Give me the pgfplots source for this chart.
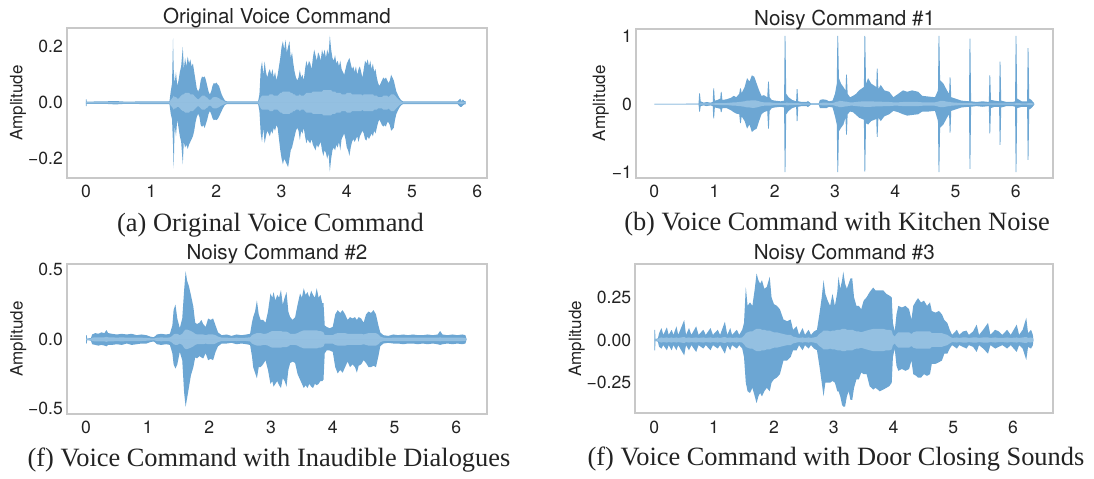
\documentclass[border=0pt]{standalone}
\usepackage{fontspec}
\setmainfont{Liberation Serif}
\setsansfont{TeX Gyre Heros}
\usepackage{pgfplots}
\pgfplotsset{compat=1.18}
\usepackage{pgfplotstable}
\definecolor{wavecol}{RGB}{108,166,211}
\definecolor{corecol}{RGB}{148,192,225}
\definecolor{framecol}{RGB}{200,200,200}
\definecolor{txt}{RGB}{35,35,35}

\pgfplotstableread{
t hi lo rms
0.000 0.012 -0.012 0.002
0.008 0.012 -0.012 0.002
0.012 0.004 -0.004 0.002
0.300 0.005 -0.004 0.002
0.450 0.006 -0.006 0.002
0.600 0.004 -0.004 0.002
1.000 0.005 -0.005 0.002
1.280 0.005 -0.005 0.002
1.300 0.040 -0.040 0.010
1.320 0.070 -0.060 0.015
1.335 0.230 -0.150 0.020
1.345 0.120 -0.235 0.025
1.360 0.070 -0.080 0.020
1.380 0.110 -0.120 0.020
1.400 0.060 -0.060 0.015
1.420 0.080 -0.090 0.015
1.440 0.110 -0.120 0.020
1.460 0.130 -0.140 0.025
1.485 0.200 -0.220 0.030
1.500 0.120 -0.140 0.030
1.520 0.160 -0.160 0.035
1.540 0.130 -0.150 0.035
1.560 0.165 -0.165 0.035
1.580 0.140 -0.150 0.035
1.600 0.155 -0.140 0.030
1.620 0.130 -0.130 0.030
1.640 0.140 -0.120 0.030
1.660 0.110 -0.100 0.025
1.680 0.080 -0.070 0.020
1.700 0.050 -0.050 0.015
1.720 0.040 -0.040 0.012
1.740 0.050 -0.050 0.015
1.760 0.080 -0.080 0.020
1.780 0.094 -0.086 0.025
1.800 0.090 -0.080 0.025
1.820 0.094 -0.090 0.025
1.840 0.080 -0.075 0.020
1.860 0.060 -0.060 0.018
1.880 0.040 -0.040 0.012
1.900 0.030 -0.030 0.010
1.920 0.040 -0.040 0.012
1.940 0.060 -0.055 0.018
1.960 0.070 -0.062 0.020
1.980 0.068 -0.060 0.020
2.000 0.072 -0.062 0.020
2.020 0.065 -0.058 0.018
2.040 0.060 -0.050 0.016
2.060 0.045 -0.040 0.012
2.080 0.030 -0.030 0.010
2.100 0.020 -0.020 0.008
2.130 0.008 -0.008 0.004
2.160 0.005 -0.005 0.002
2.400 0.005 -0.005 0.002
2.640 0.005 -0.005 0.002
2.660 0.030 -0.030 0.010
2.680 0.120 -0.110 0.020
2.700 0.148 -0.140 0.025
2.720 0.100 -0.090 0.025
2.740 0.148 -0.145 0.025
2.760 0.110 -0.120 0.025
2.780 0.090 -0.100 0.025
2.800 0.110 -0.110 0.025
2.820 0.120 -0.120 0.030
2.840 0.100 -0.100 0.030
2.860 0.120 -0.110 0.030
2.880 0.090 -0.090 0.025
2.900 0.110 -0.100 0.025
2.920 0.080 -0.080 0.025
2.940 0.100 -0.090 0.025
2.960 0.130 -0.130 0.030
2.980 0.160 -0.170 0.035
3.000 0.200 -0.200 0.035
3.020 0.220 -0.220 0.040
3.040 0.190 -0.200 0.040
3.060 0.225 -0.210 0.040
3.080 0.180 -0.220 0.040
3.100 0.200 -0.230 0.040
3.120 0.220 -0.200 0.040
3.140 0.160 -0.170 0.035
3.160 0.180 -0.160 0.035
3.180 0.140 -0.140 0.030
3.200 0.110 -0.120 0.030
3.220 0.090 -0.100 0.025
3.240 0.080 -0.090 0.025
3.260 0.090 -0.100 0.025
3.280 0.117 -0.133 0.030
3.300 0.090 -0.100 0.025
3.320 0.100 -0.110 0.025
3.340 0.080 -0.090 0.025
3.360 0.120 -0.120 0.030
3.380 0.150 -0.145 0.035
3.400 0.130 -0.130 0.035
3.420 0.150 -0.140 0.035
3.440 0.140 -0.145 0.035
3.460 0.120 -0.130 0.035
3.480 0.160 -0.150 0.040
3.500 0.190 -0.160 0.040
3.520 0.170 -0.170 0.040
3.540 0.150 -0.150 0.040
3.560 0.180 -0.160 0.040
3.580 0.170 -0.150 0.040
3.600 0.150 -0.140 0.040
3.620 0.190 -0.170 0.040
3.640 0.170 -0.190 0.045
3.660 0.190 -0.170 0.045
3.680 0.160 -0.180 0.045
3.700 0.190 -0.200 0.045
3.720 0.170 -0.180 0.045
3.740 0.240 -0.246 0.045
3.760 0.190 -0.200 0.045
3.780 0.160 -0.170 0.040
3.800 0.150 -0.160 0.040
3.820 0.170 -0.170 0.040
3.840 0.140 -0.150 0.035
3.860 0.150 -0.160 0.035
3.880 0.130 -0.140 0.035
3.900 0.150 -0.170 0.035
3.920 0.120 -0.130 0.030
3.940 0.110 -0.120 0.030
3.960 0.100 -0.110 0.030
3.980 0.120 -0.130 0.030
4.000 0.140 -0.160 0.035
4.020 0.150 -0.170 0.035
4.040 0.160 -0.190 0.035
4.060 0.140 -0.160 0.035
4.080 0.120 -0.140 0.030
4.100 0.130 -0.130 0.030
4.120 0.110 -0.140 0.030
4.140 0.130 -0.130 0.030
4.160 0.100 -0.120 0.030
4.180 0.120 -0.140 0.030
4.200 0.130 -0.120 0.030
4.220 0.110 -0.110 0.030
4.240 0.090 -0.100 0.025
4.260 0.120 -0.110 0.030
4.280 0.150 -0.130 0.030
4.300 0.140 -0.135 0.030
4.320 0.155 -0.120 0.030
4.340 0.130 -0.130 0.030
4.360 0.150 -0.120 0.030
4.380 0.120 -0.110 0.030
4.400 0.140 -0.120 0.030
4.420 0.110 -0.100 0.025
4.440 0.120 -0.110 0.025
4.460 0.090 -0.090 0.025
4.480 0.070 -0.070 0.020
4.500 0.060 -0.060 0.020
4.520 0.070 -0.070 0.020
4.540 0.080 -0.080 0.020
4.560 0.090 -0.085 0.025
4.580 0.085 -0.080 0.025
4.600 0.090 -0.085 0.025
4.620 0.080 -0.070 0.025
4.640 0.070 -0.070 0.020
4.660 0.080 -0.080 0.025
4.680 0.100 -0.100 0.030
4.700 0.090 -0.095 0.030
4.720 0.080 -0.090 0.030
4.740 0.060 -0.060 0.025
4.760 0.040 -0.040 0.020
4.780 0.030 -0.030 0.015
4.800 0.020 -0.020 0.010
4.830 0.010 -0.010 0.005
4.860 0.005 -0.005 0.002
5.200 0.005 -0.005 0.002
5.700 0.005 -0.005 0.002
5.740 0.015 -0.015 0.004
5.760 0.005 -0.015 0.004
5.780 0.012 -0.010 0.004
5.800 0.006 -0.006 0.002
5.820 0.006 -0.006 0.002
5.825 0.000 0.000 0.000
}\dataA

\pgfplotstableread{
t hi lo rms
0.000 0.004 -0.004 0.001
0.500 0.004 -0.004 0.001
0.735 0.006 -0.006 0.002
0.745 0.157 -0.110 0.004
0.757 0.157 -0.110 0.004
0.770 0.040 -0.030 0.010
0.820 0.020 -0.020 0.008
0.870 0.030 -0.030 0.008
0.930 0.020 -0.020 0.008
0.970 0.030 -0.030 0.008
0.980 0.230 -0.210 0.008
0.992 0.230 -0.210 0.008
1.005 0.050 -0.050 0.012
1.050 0.060 -0.060 0.012
1.095 0.080 -0.070 0.015
1.105 0.180 -0.120 0.015
1.117 0.180 -0.120 0.015
1.130 0.060 -0.060 0.015
1.200 0.070 -0.060 0.015
1.270 0.090 -0.090 0.020
1.320 0.120 -0.120 0.025
1.360 0.100 -0.140 0.025
1.410 0.150 -0.150 0.030
1.425 0.230 -0.280 0.030
1.437 0.230 -0.280 0.030
1.450 0.160 -0.180 0.035
1.500 0.250 -0.250 0.040
1.540 0.380 -0.360 0.050
1.580 0.330 -0.300 0.050
1.620 0.420 -0.410 0.055
1.660 0.400 -0.380 0.055
1.700 0.300 -0.360 0.050
1.740 0.200 -0.250 0.040
1.780 0.120 -0.150 0.030
1.820 0.130 -0.120 0.025
1.875 0.100 -0.100 0.025
1.890 0.330 -0.360 0.025
1.902 0.330 -0.360 0.025
1.915 0.100 -0.100 0.025
1.950 0.060 -0.060 0.020
2.000 0.050 -0.050 0.015
2.100 0.040 -0.040 0.012
2.155 0.050 -0.050 0.012
2.165 1.000 -1.000 0.012
2.177 1.000 -1.000 0.012
2.190 0.150 -0.150 0.020
2.230 0.100 -0.100 0.018
2.290 0.060 -0.060 0.015
2.355 0.040 -0.040 0.012
2.365 0.220 -0.250 0.012
2.377 0.220 -0.250 0.012
2.390 0.040 -0.040 0.012
2.450 0.030 -0.030 0.010
2.530 0.030 -0.030 0.010
2.550 0.045 -0.045 0.010
2.600 0.010 -0.010 0.005
2.730 0.010 -0.010 0.005
2.750 0.060 -0.060 0.015
2.800 0.070 -0.060 0.020
2.860 0.060 -0.060 0.020
2.900 0.040 -0.040 0.015
2.960 0.050 -0.050 0.015
3.000 0.150 -0.180 0.025
3.030 0.300 -0.300 0.035
3.040 1.000 -1.000 0.035
3.052 1.000 -1.000 0.035
3.065 0.380 -0.400 0.045
3.100 0.300 -0.350 0.045
3.140 0.250 -0.300 0.040
3.175 0.200 -0.200 0.035
3.185 0.430 -0.450 0.035
3.197 0.430 -0.450 0.035
3.210 0.150 -0.150 0.030
3.250 0.100 -0.110 0.025
3.300 0.120 -0.120 0.025
3.350 0.150 -0.160 0.030
3.400 0.200 -0.200 0.035
3.480 0.250 -0.230 0.040
3.490 1.000 -0.990 0.040
3.502 1.000 -0.990 0.040
3.515 0.300 -0.280 0.040
3.550 0.380 -0.300 0.040
3.600 0.300 -0.250 0.040
3.685 0.250 -0.220 0.035
3.695 0.520 -0.480 0.035
3.707 0.520 -0.480 0.035
3.720 0.220 -0.200 0.035
3.760 0.280 -0.250 0.035
3.820 0.200 -0.180 0.030
3.900 0.180 -0.150 0.030
3.970 0.100 -0.100 0.025
4.050 0.150 -0.120 0.025
4.130 0.200 -0.150 0.030
4.200 0.180 -0.170 0.030
4.280 0.200 -0.160 0.030
4.380 0.180 -0.150 0.030
4.450 0.120 -0.110 0.025
4.550 0.110 -0.110 0.025
4.660 0.100 -0.100 0.025
4.710 0.200 -0.250 0.035
4.720 1.000 -1.000 0.040
4.732 1.000 -1.000 0.040
4.745 0.350 -0.350 0.045
4.800 0.300 -0.300 0.045
4.860 0.200 -0.200 0.035
4.895 0.150 -0.150 0.030
4.905 0.390 -0.420 0.030
4.917 0.390 -0.420 0.030
4.930 0.100 -0.100 0.025
5.000 0.080 -0.080 0.020
5.100 0.050 -0.050 0.015
5.225 0.040 -0.040 0.012
5.235 0.960 -0.950 0.012
5.247 0.960 -0.950 0.012
5.260 0.040 -0.040 0.012
5.350 0.030 -0.030 0.010
5.450 0.040 -0.040 0.010
5.555 0.030 -0.030 0.010
5.565 0.420 -0.430 0.010
5.577 0.420 -0.430 0.010
5.590 0.060 -0.060 0.010
5.650 0.050 -0.040 0.010
5.725 0.040 -0.040 0.010
5.735 0.620 -0.600 0.010
5.747 0.620 -0.600 0.010
5.760 0.050 -0.050 0.010
5.850 0.030 -0.030 0.010
5.950 0.030 -0.030 0.010
5.990 0.040 -0.040 0.010
6.000 1.000 -1.000 0.012
6.012 1.000 -1.000 0.012
6.025 0.080 -0.060 0.015
6.100 0.040 -0.040 0.010
6.190 0.040 -0.040 0.010
6.200 0.820 -0.820 0.012
6.212 0.820 -0.820 0.012
6.225 0.080 -0.080 0.015
6.260 0.060 -0.060 0.015
6.300 0.020 -0.020 0.005
6.310 0.000 0.000 0.000
}\dataB

\pgfplotstableread{
t hi lo rms
0.000 0.030 -0.030 0.005
0.010 0.030 -0.030 0.005
0.020 0.005 -0.005 0.003
0.080 0.010 -0.010 0.005
0.100 0.035 -0.035 0.012
0.150 0.045 -0.040 0.015
0.200 0.040 -0.045 0.015
0.250 0.050 -0.040 0.015
0.300 0.045 -0.045 0.015
0.330 0.067 -0.050 0.018
0.360 0.045 -0.040 0.015
0.420 0.040 -0.040 0.015
0.500 0.035 -0.035 0.012
0.580 0.040 -0.040 0.015
0.660 0.035 -0.030 0.012
0.740 0.040 -0.040 0.012
0.820 0.030 -0.035 0.012
0.900 0.035 -0.030 0.012
0.980 0.030 -0.030 0.010
1.040 0.020 -0.020 0.008
1.100 0.015 -0.015 0.006
1.150 0.035 -0.035 0.012
1.220 0.040 -0.040 0.014
1.300 0.035 -0.035 0.012
1.360 0.040 -0.040 0.014
1.400 0.100 -0.100 0.025
1.420 0.210 -0.180 0.035
1.450 0.250 -0.210 0.040
1.480 0.150 -0.180 0.040
1.520 0.080 -0.090 0.030
1.560 0.150 -0.150 0.040
1.590 0.350 -0.380 0.060
1.615 0.490 -0.485 0.070
1.640 0.420 -0.420 0.070
1.670 0.380 -0.340 0.065
1.700 0.320 -0.260 0.060
1.740 0.235 -0.200 0.050
1.770 0.120 -0.130 0.040
1.800 0.110 -0.137 0.035
1.840 0.120 -0.120 0.035
1.870 0.140 -0.130 0.035
1.900 0.110 -0.137 0.035
1.940 0.090 -0.100 0.030
1.980 0.150 -0.150 0.035
2.020 0.140 -0.140 0.035
2.060 0.150 -0.150 0.035
2.100 0.100 -0.090 0.030
2.140 0.050 -0.050 0.020
2.200 0.030 -0.030 0.012
2.280 0.035 -0.030 0.012
2.360 0.025 -0.025 0.010
2.440 0.035 -0.035 0.012
2.520 0.030 -0.030 0.010
2.600 0.035 -0.035 0.012
2.660 0.040 -0.040 0.015
2.690 0.120 -0.120 0.030
2.710 0.160 -0.200 0.035
2.740 0.200 -0.240 0.040
2.770 0.280 -0.280 0.045
2.800 0.180 -0.200 0.045
2.830 0.140 -0.200 0.045
2.870 0.140 -0.180 0.040
2.910 0.120 -0.150 0.040
2.950 0.200 -0.220 0.045
2.990 0.330 -0.320 0.055
3.020 0.300 -0.300 0.060
3.040 0.340 -0.340 0.060
3.070 0.280 -0.320 0.060
3.100 0.320 -0.300 0.060
3.130 0.300 -0.330 0.060
3.160 0.355 -0.350 0.060
3.190 0.250 -0.280 0.055
3.220 0.300 -0.300 0.055
3.250 0.340 -0.340 0.055
3.280 0.200 -0.220 0.050
3.310 0.160 -0.170 0.040
3.350 0.140 -0.160 0.040
3.390 0.160 -0.170 0.040
3.430 0.250 -0.250 0.045
3.470 0.330 -0.290 0.055
3.500 0.300 -0.320 0.060
3.530 0.367 -0.350 0.065
3.560 0.320 -0.330 0.065
3.590 0.340 -0.350 0.065
3.620 0.300 -0.320 0.065
3.650 0.350 -0.340 0.065
3.680 0.320 -0.350 0.065
3.710 0.300 -0.320 0.065
3.740 0.367 -0.330 0.065
3.770 0.300 -0.320 0.060
3.800 0.320 -0.300 0.060
3.830 0.260 -0.300 0.055
3.850 0.260 -0.290 0.050
3.870 0.100 -0.100 0.030
3.900 0.090 -0.080 0.030
3.950 0.080 -0.080 0.030
4.000 0.090 -0.090 0.030
4.040 0.180 -0.200 0.040
4.080 0.210 -0.245 0.045
4.120 0.190 -0.220 0.045
4.160 0.210 -0.240 0.045
4.200 0.180 -0.200 0.045
4.240 0.140 -0.160 0.040
4.280 0.160 -0.200 0.040
4.320 0.150 -0.180 0.040
4.360 0.160 -0.200 0.040
4.390 0.140 -0.240 0.040
4.420 0.160 -0.190 0.040
4.460 0.150 -0.180 0.040
4.500 0.120 -0.150 0.035
4.540 0.180 -0.170 0.040
4.580 0.200 -0.200 0.045
4.620 0.190 -0.200 0.045
4.660 0.210 -0.190 0.045
4.700 0.180 -0.200 0.045
4.740 0.100 -0.120 0.035
4.770 0.050 -0.050 0.020
4.820 0.030 -0.030 0.012
4.900 0.025 -0.025 0.010
4.980 0.035 -0.030 0.012
5.060 0.030 -0.030 0.012
5.140 0.035 -0.035 0.012
5.220 0.030 -0.030 0.012
5.300 0.035 -0.030 0.012
5.380 0.030 -0.035 0.012
5.460 0.030 -0.030 0.012
5.540 0.035 -0.035 0.012
5.620 0.030 -0.030 0.012
5.700 0.035 -0.035 0.012
5.740 0.060 -0.040 0.014
5.780 0.035 -0.035 0.012
5.860 0.030 -0.030 0.012
5.940 0.035 -0.035 0.012
6.020 0.030 -0.030 0.012
6.100 0.035 -0.035 0.012
6.150 0.030 -0.030 0.010
6.170 0.000 0.000 0.000
}\dataC

\pgfplotstableread{
t hi lo rms
0.000 0.060 -0.060 0.005
0.012 0.060 -0.060 0.005
0.020 0.005 -0.005 0.003
0.060 0.010 -0.010 0.005
0.080 0.040 -0.040 0.012
0.120 0.070 -0.050 0.015
0.150 0.030 -0.030 0.012
0.210 0.074 -0.060 0.015
0.240 0.030 -0.030 0.012
0.290 0.060 -0.060 0.015
0.320 0.030 -0.030 0.012
0.370 0.080 -0.060 0.015
0.400 0.030 -0.030 0.012
0.500 0.117 -0.090 0.018
0.530 0.030 -0.030 0.012
0.580 0.070 -0.060 0.015
0.620 0.030 -0.030 0.012
0.700 0.080 -0.070 0.015
0.740 0.030 -0.030 0.012
0.820 0.060 -0.050 0.015
0.860 0.030 -0.030 0.012
0.940 0.070 -0.060 0.015
0.980 0.030 -0.030 0.012
1.060 0.060 -0.050 0.015
1.100 0.030 -0.030 0.012
1.180 0.107 -0.080 0.018
1.220 0.030 -0.030 0.012
1.270 0.070 -0.060 0.015
1.300 0.030 -0.030 0.012
1.380 0.060 -0.050 0.015
1.420 0.030 -0.030 0.012
1.470 0.060 -0.050 0.015
1.500 0.100 -0.100 0.025
1.530 0.310 -0.250 0.040
1.560 0.200 -0.300 0.045
1.600 0.220 -0.310 0.050
1.640 0.200 -0.280 0.050
1.680 0.300 -0.330 0.060
1.710 0.390 -0.370 0.065
1.740 0.350 -0.330 0.065
1.770 0.330 -0.310 0.065
1.800 0.350 -0.330 0.060
1.840 0.300 -0.300 0.060
1.880 0.310 -0.280 0.055
1.930 0.370 -0.300 0.055
1.960 0.250 -0.250 0.050
2.000 0.210 -0.230 0.045
2.050 0.200 -0.220 0.045
2.100 0.180 -0.200 0.040
2.160 0.120 -0.120 0.035
2.220 0.110 -0.120 0.030
2.280 0.120 -0.100 0.030
2.320 0.060 -0.060 0.020
2.380 0.080 -0.060 0.015
2.420 0.030 -0.030 0.012
2.480 0.070 -0.060 0.015
2.520 0.030 -0.030 0.012
2.580 0.060 -0.050 0.015
2.620 0.030 -0.030 0.012
2.670 0.050 -0.050 0.015
2.720 0.060 -0.060 0.020
2.760 0.150 -0.150 0.035
2.800 0.250 -0.250 0.045
2.830 0.350 -0.330 0.055
2.860 0.270 -0.250 0.055
2.900 0.230 -0.250 0.055
2.940 0.200 -0.250 0.050
2.980 0.270 -0.240 0.055
3.020 0.200 -0.250 0.055
3.060 0.280 -0.300 0.060
3.080 0.370 -0.300 0.060
3.110 0.300 -0.330 0.060
3.140 0.350 -0.380 0.065
3.160 0.400 -0.390 0.065
3.190 0.330 -0.390 0.065
3.220 0.300 -0.330 0.060
3.250 0.330 -0.300 0.060
3.280 0.360 -0.350 0.060
3.310 0.360 -0.350 0.060
3.340 0.250 -0.280 0.055
3.380 0.200 -0.230 0.050
3.420 0.200 -0.230 0.050
3.460 0.180 -0.190 0.045
3.500 0.230 -0.200 0.050
3.550 0.250 -0.200 0.055
3.600 0.280 -0.270 0.060
3.660 0.307 -0.290 0.065
3.700 0.290 -0.280 0.065
3.770 0.290 -0.300 0.065
3.830 0.290 -0.290 0.065
3.880 0.270 -0.280 0.060
3.930 0.260 -0.270 0.060
3.970 0.250 -0.250 0.055
3.990 0.100 -0.100 0.030
4.020 0.050 -0.050 0.020
4.050 0.150 -0.150 0.035
4.080 0.200 -0.180 0.045
4.140 0.190 -0.170 0.045
4.200 0.200 -0.180 0.045
4.260 0.180 -0.170 0.045
4.300 0.120 -0.120 0.035
4.330 0.200 -0.200 0.045
4.380 0.230 -0.210 0.050
4.410 0.245 -0.220 0.050
4.460 0.220 -0.220 0.050
4.510 0.230 -0.200 0.050
4.560 0.200 -0.210 0.050
4.610 0.220 -0.200 0.050
4.640 0.170 -0.140 0.040
4.700 0.160 -0.140 0.040
4.760 0.170 -0.130 0.040
4.810 0.150 -0.120 0.040
4.850 0.117 -0.080 0.035
4.900 0.100 -0.080 0.030
4.940 0.060 -0.050 0.020
4.980 0.030 -0.030 0.012
5.060 0.060 -0.050 0.015
5.100 0.030 -0.030 0.012
5.160 0.050 -0.040 0.015
5.220 0.055 -0.050 0.015
5.260 0.030 -0.030 0.012
5.330 0.050 -0.040 0.015
5.390 0.090 -0.070 0.015
5.430 0.030 -0.030 0.012
5.500 0.060 -0.050 0.015
5.580 0.100 -0.080 0.015
5.620 0.030 -0.030 0.012
5.700 0.060 -0.050 0.015
5.760 0.050 -0.040 0.012
5.820 0.030 -0.030 0.012
5.900 0.060 -0.050 0.015
5.960 0.030 -0.030 0.012
6.060 0.090 -0.070 0.015
6.100 0.030 -0.030 0.012
6.160 0.060 -0.050 0.015
6.220 0.130 -0.117 0.018
6.250 0.040 -0.040 0.012
6.300 0.060 -0.050 0.015
6.330 0.030 -0.030 0.010
6.340 0.000 0.000 0.000
}\dataD

\pgfplotsset{
  wave/.style={
    scale only axis, anchor=south west,
    axis line style={draw=framecol, line width=1pt},
    major tick length=0pt, tick style={draw=none},
    xtick={0,1,2,3,4,5,6},
    /pgf/number format/assume math mode=true,
    tick label style={font=\fontsize{8.8}{10}\selectfont\sffamily, text=txt},
    xticklabel style={anchor=base, inner sep=0pt, yshift=-9.85pt},
    yticklabel style={anchor=east, inner sep=0pt, xshift=-1.85pt},
    every axis title/.style={at={(0.5,1)}, anchor=base, yshift=2.35pt, inner sep=0pt,
      font=\fontsize{10.3}{12}\selectfont\sffamily, text=txt},
    ylabel={Amplitude},
    ylabel style={font=\fontsize{8.5}{10}\selectfont\sffamily, text=txt, inner sep=0pt, anchor=center},
  },
  waveenv/.style={draw=none, fill=wavecol},
  wavecore/.style={draw=none, fill=corecol},
}

\newcommand{\drawwave}[1]{%
  \addplot[waveenv] table[x=t, y=hi] {#1} \closedcycle;
  \addplot[waveenv] table[x=t, y=lo] {#1} \closedcycle;
  \addplot[wavecore] table[x=t, y=rms] {#1} \closedcycle;
  \addplot[wavecore] table[x=t, y expr=-\thisrow{rms}] {#1} \closedcycle;
}

\begin{document}
\begin{tikzpicture}
\path[use as bounding box] (0pt,0pt) rectangle (547pt,-239pt);

\begin{axis}[wave, at={(33.5pt,-89pt)}, width=210pt, height=75pt,
  xmin=-0.291, xmax=6.150, ymin=-0.269, ymax=0.267,
  ytick={-0.2,0,0.2}, yticklabels={−0.2,0.0,0.2},
  title={Original Voice Command},
  ylabel style={at={([xshift=-24.5pt]axis description cs:0,0.5)}}]
\drawwave{\dataA}
\end{axis}

\begin{axis}[wave, at={(318pt,-88.85pt)}, width=208.65pt, height=74.35pt,
  xmin=-0.304, xmax=6.625, ymin=-1.08, ymax=1.10,
  ytick={-1,0,1}, yticklabels={−1,0,1},
  title={Noisy Command \#1}, title style={yshift=-0.35pt},
  ylabel style={at={([xshift=-17.65pt]axis description cs:0,0.5)}}]
\drawwave{\dataB}
\end{axis}

\begin{axis}[wave, at={(33.5pt,-207pt)}, width=210pt, height=75pt,
  xmin=-0.308, xmax=6.50, ymin=-0.537, ymax=0.542,
  ytick={-0.5,0,0.5}, yticklabels={−0.5,0.0,0.5},
  title={Noisy Command \#2},
  ylabel style={at={([xshift=-24.3pt]axis description cs:0,0.5)}}]
\drawwave{\dataC}
\end{axis}

\begin{axis}[wave, at={(317.65pt,-206.65pt)}, width=209pt, height=74.5pt,
  xmin=-0.318, xmax=6.672, ymin=-0.429, ymax=0.443,
  ytick={-0.25,0,0.25}, yticklabels={−0.25,0.00,0.25},
  title={Noisy Command \#3},
  ylabel style={at={([xshift=-29.3pt]axis description cs:0,0.5)}}]
\drawwave{\dataD}
\end{axis}

\node[anchor=base, inner sep=0pt, font=\fontsize{13.2}{15}\selectfont, text=txt] at (135.25pt,-115.85pt) {(a) Original Voice Command};
\node[anchor=base, inner sep=0pt, font=\fontsize{13.2}{15}\selectfont, text=txt] at (418.5pt,-115pt) {(b) Voice Command with Kitchen Noise};
\node[anchor=base, inner sep=0pt, font=\fontsize{13.2}{15}\selectfont, text=txt] at (134.5pt,-233pt) {(f) Voice Command with Inaudible Dialogues};
\node[anchor=base, inner sep=0pt, font=\fontsize{13.2}{15}\selectfont, text=txt] at (418pt,-232.5pt) {(f) Voice Command with Door Closing Sounds};
\end{tikzpicture}
\end{document}
